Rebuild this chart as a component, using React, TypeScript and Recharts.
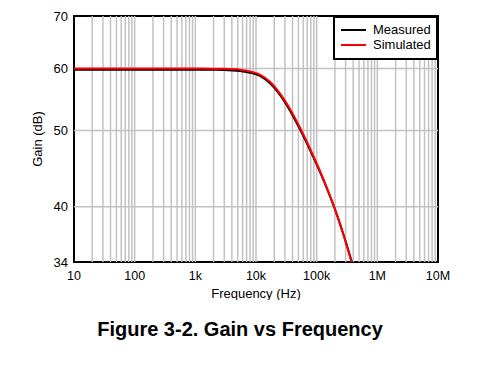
import {
  LineChart,
  Line,
  XAxis,
  YAxis,
  Legend,
  ReferenceLine,
  ReferenceArea,
  Label,
} from "recharts";

const FREQ = [10, 100, 1000, 2000, 3000, 5500, 8000, 11600, 17000, 25000, 36000, 53000, 94000, 140000, 195000, 280000, 400000];
const MEASURED = [59.8, 59.8, 59.8, 59.78, 59.75, 59.55, 59.27, 58.7, 57.45, 55.5, 53.1, 50.2, 45.76, 42.62, 39.91, 36.75, 33.56];
const SIMULATED = [60.0, 60.0, 60.0, 59.98, 59.95, 59.8, 59.5, 58.95, 57.7, 55.75, 53.35, 50.45, 45.9, 42.7, 39.95, 36.7, 33.4];

const X_TICKS = [10, 100, 1000, 10000, 100000, 1000000, 10000000];
const X_LABELS = ["10", "100", "1k", "10k", "100k", "1M", "10M"];
const Y_TICKS = [34, 40, 50, 60, 70];
const Y_GRID = [40, 50, 60];
const DECADES = [10, 100, 1000, 10000, 100000, 1000000];
const MULTS = [1, 2, 3, 4, 5, 6, 7, 8, 9];

const FONT = "'Liberation Sans', Arial, sans-serif";
const GRID = "#c2c2c2";

const data = FREQ.map((f, i) => ({ f, measured: MEASURED[i], simulated: SIMULATED[i] }));
const xGrid = DECADES.flatMap((d) => MULTS.map((m) => d * m)).filter((v) => v > 10);

function LegendBox(props: any) {
  const items = props.payload || [];
  return (
    <div
      style={{
        width: 105,
        height: 44,
        boxSizing: "border-box",
        border: "2px solid #000",
        background: "#fff",
        padding: "5px 0 0 6px",
        fontFamily: FONT,
        fontSize: 13,
        color: "#000",
      }}
    >
      {items.map((it: any) => (
        <div key={it.value} style={{ display: "flex", alignItems: "center", height: 14.5 }}>
          <span style={{ display: "inline-block", width: 25, height: 2, background: it.color, marginRight: 7 }} />
          <span style={{ lineHeight: "14px" }}>{it.value}</span>
        </div>
      ))}
    </div>
  );
}

export default function App() {
  return (
    <div style={{ position: "absolute", left: 0, top: 0, width: 498, height: 377, background: "#fff" }}>
      <LineChart
        width={498}
        height={300}
        data={data}
        margin={{ top: 16, right: 60, left: 0, bottom: 0 }}
      >
        <XAxis
          dataKey="f"
          type="number"
          scale="log"
          domain={[10, 10000000]}
          ticks={X_TICKS}
          tickFormatter={(v: number) => X_LABELS[X_TICKS.indexOf(v)] ?? ""}
          allowDataOverflow
          height={38}
          tickLine={false}
          axisLine={false}
          tickSize={6}
          tickMargin={3}
          tick={{ fill: "#000", fontSize: 12.5, fontFamily: FONT }}
          interval={0}
        >
          <Label value="Frequency (Hz)" position="insideBottom" offset={2} style={{ fill: "#000", fontSize: 13, fontFamily: FONT }} />
        </XAxis>
        <YAxis
          type="number"
          scale="log"
          domain={[34, 70]}
          ticks={Y_TICKS}
          allowDataOverflow
          width={74}
          tickLine={false}
          axisLine={false}
          tickSize={4}
          tickMargin={2}
          tick={{ fill: "#000", fontSize: 13, fontFamily: FONT }}
          interval={0}
        >
          <Label value="Gain (dB)" angle={-90} position="center" style={{ fill: "#000", fontSize: 13, fontFamily: FONT, textAnchor: "middle" }} />
        </YAxis>
        {xGrid.map((v) => (
          <ReferenceLine key={"x" + v} x={v} stroke={GRID} strokeWidth={1.5} />
        ))}
        {Y_GRID.map((v) => (
          <ReferenceLine key={"y" + v} y={v} stroke={GRID} strokeWidth={1.5} />
        ))}
        <Line
          type="monotone"
          dataKey="measured"
          name="Measured"
          stroke="#000"
          strokeWidth={2}
          dot={false}
          isAnimationActive={false}
        />
        <Line
          type="monotone"
          dataKey="simulated"
          name="Simulated"
          stroke="#ff0000"
          strokeWidth={2}
          dot={false}
          isAnimationActive={false}
        />
        <ReferenceArea
          x1={10}
          x2={10000000}
          y1={34}
          y2={70}
          fill="none"
          fillOpacity={0}
          stroke="#000"
          strokeWidth={2}
        />
        <Legend
          layout="vertical"
          align="center"
          verticalAlign="middle"
          content={<LegendBox />}
          wrapperStyle={{ top: 16, left: 333, width: 105, height: 44 }}
        />
      </LineChart>
      <div
        style={{
          position: "absolute",
          top: 318,
          left: 0,
          width: 480,
          textAlign: "center",
          fontFamily: FONT,
          fontWeight: "bold",
          fontSize: 20,
          lineHeight: "22px",
          color: "#000",
        }}
      >
        Figure 3-2. Gain vs Frequency
      </div>
    </div>
  );
}
